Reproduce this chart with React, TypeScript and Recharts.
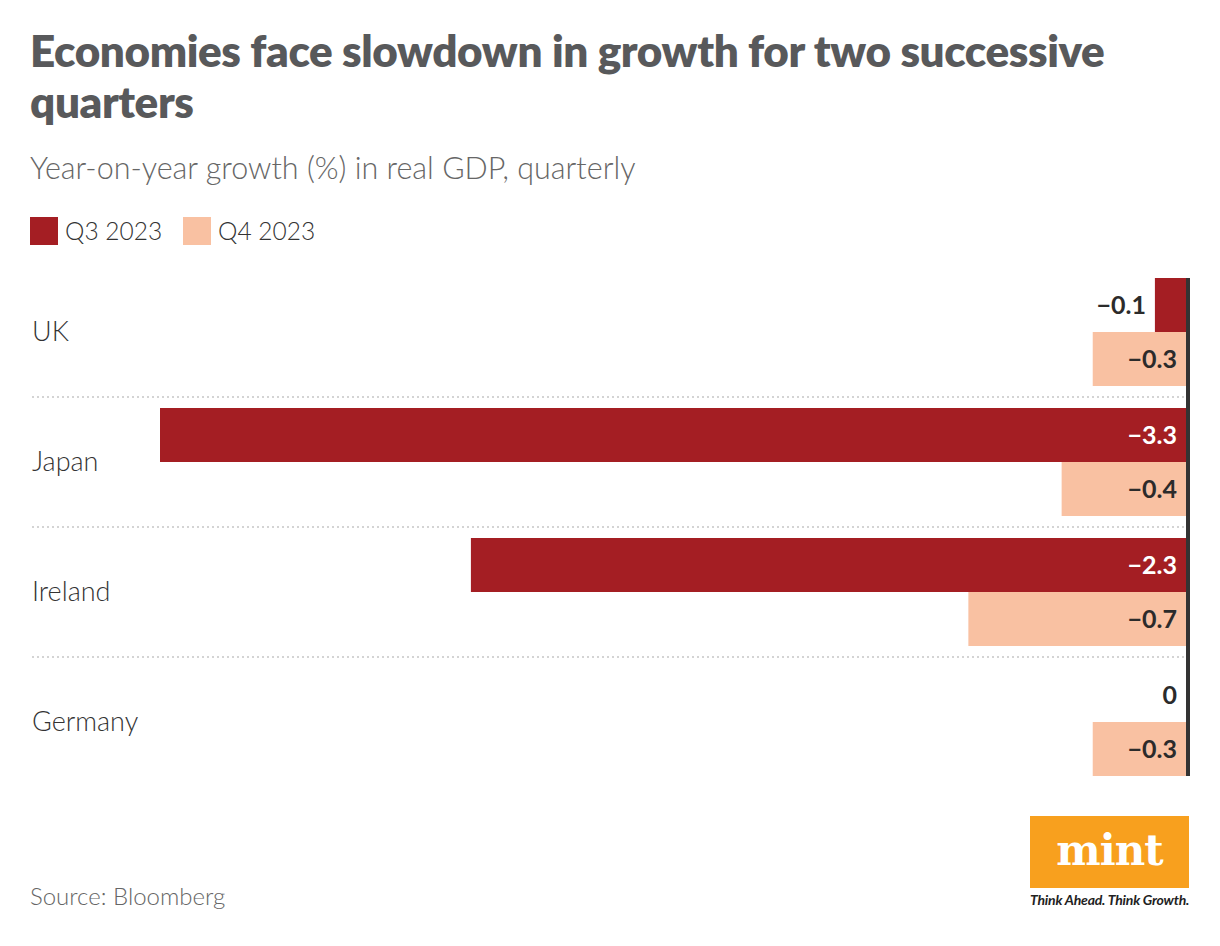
import React from "react";
import { BarChart, Bar, XAxis, YAxis, LabelList, ReferenceLine } from "recharts";

const countries = ["UK", "Japan", "Ireland", "Germany"];
const q3Values = [-0.1, -3.3, -2.3, 0];
const q4Values = [-0.3, -0.4, -0.7, -0.3];
const seriesNames = ["Q3 2023", "Q4 2023"];

const data = countries.map((country, i) => ({ country, q3: q3Values[i], q4: q4Values[i] }));

const RED = "#a41e23";
const PEACH = "#f9c1a2";
const DARK = "#2b2b2b";
const FONT = "Lato, 'Noto Sans', sans-serif";

const W = 1220;
const H = 946;
const MARGIN = { top: 267, right: 34, bottom: 159, left: 0 };
const BAR = 54;
const BAND = (H - MARGIN.top - MARGIN.bottom) / countries.length;
const LABEL_X = 32;

const fmt = (v: number) => (v === 0 ? "0" : (v < 0 ? "\u2212" : "") + Math.abs(v).toFixed(1));

const CountryTick = (props: any) => {
  const { y, payload, index } = props;
  return (
    <g>
      {index > 0 && (
        <line
          x1={LABEL_X}
          x2={W - MARGIN.right - 2}
          y1={y - BAND / 2}
          y2={y - BAND / 2}
          stroke="#d4d4d4"
          strokeWidth={2}
          strokeDasharray="2 3"
        />
      )}
      <text x={LABEL_X} y={y} dy={9} fill="#333" fontSize={27} fontWeight={300} fontFamily={FONT}>
        {payload.value}
      </text>
    </g>
  );
};

const makeValueLabel = (insideColor: string) => (props: any) => {
  const { x, y, width, height, value } = props;
  const w = Number(width) || 0;
  const left = Math.min(x, x + w);
  const right = Math.max(x, x + w);
  const text = fmt(Number(value));
  const textW = text.length * 13;
  const inside = right - left >= textW + 16;
  const tx = inside ? right - 9 : left - 9;
  return (
    <text
      x={tx}
      y={y + height / 2}
      dy={9}
      textAnchor="end"
      fill={inside ? insideColor : DARK}
      fontSize={25}
      fontWeight={700}
      fontFamily={FONT}
    >
      {text}
    </text>
  );
};

const ZeroLine = (p: any) => {
  const gap = (BAND - 2 * BAR) / 2;
  const top = Math.min(p.y1, p.y2) + gap;
  const bottom = Math.max(p.y1, p.y2) - gap;
  return <line x1={p.x1 + 2} x2={p.x2 + 2} y1={top} y2={bottom} stroke="#333" strokeWidth={4} />;
};

export default function App() {
  return (
    <div style={{ position: "absolute", left: 0, top: 0, width: W, height: H, background: "#fff", fontFamily: FONT }}>
      <div
        style={{
          position: "absolute",
          left: 30,
          top: 25,
          width: 1150,
          fontSize: 44,
          lineHeight: "51px",
          fontWeight: 800,
          color: "#58595b",
          letterSpacing: -0.4,
        }}
      >
        Economies face slowdown in growth for two successive quarters
      </div>
      <div style={{ position: "absolute", left: 30, top: 149, fontSize: 30.5, fontWeight: 300, color: "#666" }}>
        Year-on-year growth (%) in real GDP, quarterly
      </div>
      <div style={{ position: "absolute", left: 30, top: 216, display: "flex", alignItems: "center" }}>
        {seriesNames.map((name, i) => (
          <div key={name} style={{ display: "flex", alignItems: "center", marginRight: 21 }}>
            <div style={{ width: 28, height: 28, background: i === 0 ? RED : PEACH, marginRight: 7 }} />
            <span style={{ fontSize: 24.5, fontWeight: 300, color: "#333" }}>{name}</span>
          </div>
        ))}
      </div>

      <div style={{ position: "absolute", left: 0, top: 0 }}>
        <BarChart width={W} height={H} data={data} layout="vertical" margin={MARGIN} barSize={BAR} barGap={0}>
          <XAxis type="number" domain={[-3.3, 0]} hide />
          <YAxis
            type="category"
            dataKey="country"
            width={160}
            axisLine={false}
            tickLine={false}
            tick={<CountryTick />}
          />
          <Bar dataKey="q3" name={seriesNames[0]} fill={RED} minPointSize={1} isAnimationActive={false}>
            <LabelList dataKey="q3" content={makeValueLabel("#fff")} />
          </Bar>
          <Bar dataKey="q4" name={seriesNames[1]} fill={PEACH} isAnimationActive={false}>
            <LabelList dataKey="q4" content={makeValueLabel(DARK)} />
          </Bar>
          <ReferenceLine x={0} shape={ZeroLine} />
        </BarChart>
      </div>

      <div style={{ position: "absolute", left: 30, top: 881, fontSize: 24, fontWeight: 300, color: "#666" }}>
        Source: Bloomberg
      </div>
      <div
        style={{
          position: "absolute",
          left: 1030,
          top: 816,
          width: 159,
          height: 72,
          background: "#f8a01e",
          display: "flex",
          alignItems: "center",
          justifyContent: "center",
        }}
      >
        <span
          style={{
            fontFamily: "'DejaVu Serif', serif",
            fontWeight: 700,
            fontSize: 42,
            color: "#fff",
            letterSpacing: -1,
            marginTop: -4,
          }}
        >
          mint
        </span>
      </div>
      <div
        style={{
          position: "absolute",
          left: 1030,
          top: 891,
          width: 162,
          fontSize: 14,
          fontStyle: "italic",
          fontWeight: 700,
          color: "#222",
          whiteSpace: "nowrap",
          letterSpacing: -0.2,
        }}
      >
        Think Ahead. Think Growth.
      </div>
    </div>
  );
}
